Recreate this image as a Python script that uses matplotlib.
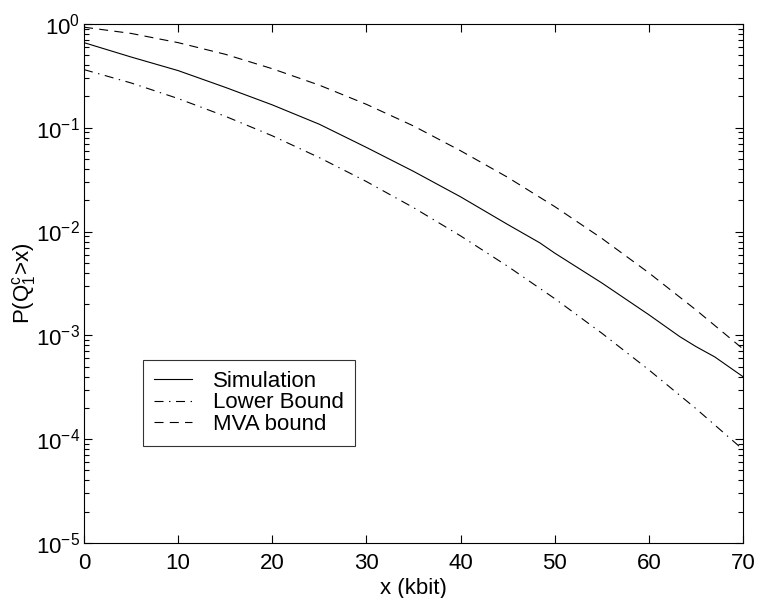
import numpy as np
import matplotlib
matplotlib.use("Agg")
import matplotlib.pyplot as plt
from matplotlib.ticker import LogLocator, NullLocator

plt.rcParams['font.family'] = ['Liberation Sans', 'DejaVu Sans']
plt.rcParams['mathtext.fontset'] = 'custom'
plt.rcParams['mathtext.rm'] = 'Liberation Sans'
plt.rcParams['mathtext.it'] = 'Liberation Sans'
plt.rcParams['mathtext.default'] = 'regular'
plt.rcParams['lines.scale_dashes'] = False

# buffer size in kbit
x = [0, 5, 10, 15, 20, 25, 30, 35, 40, 45, 50, 55, 60, 65, 70]
sim_x = [0, 5, 10, 15, 20, 25, 30, 35, 40, 45, 48.4, 50, 55, 60, 63.3, 65, 67, 70]

# overflow probabilities
simulation = [0.66, 0.48, 0.355, 0.245, 0.166, 0.108, 0.0646, 0.038, 0.0216,
              0.0117, 0.0078, 0.0062, 0.0032, 0.00158, 0.00097, 0.00078,
              0.00062, 0.0004]
lower_bound = [0.363, 0.270, 0.191, 0.129, 0.0836, 0.0515, 0.0303, 0.0170,
               0.00908, 0.00463, 0.00226, 0.00105, 0.000465, 0.000197, 0.0000794]
mva_bound = [0.93, 0.81, 0.66, 0.51, 0.37, 0.257, 0.168, 0.104, 0.060,
             0.0333, 0.0174, 0.0086, 0.0040, 0.00176, 0.00074]

fig = plt.figure(figsize=(7.57, 5.98), dpi=100)
ax = fig.add_axes([0.111, 0.092, 0.8705, 0.868])

lw = 0.8
ax.semilogy(sim_x, simulation, '-', color='black', lw=lw, label='Simulation')
ax.semilogy(x, lower_bound, color='black', lw=lw, dashes=(6.5, 4, 1, 4),
            label='Lower Bound')
ax.semilogy(x, mva_bound, color='black', lw=lw, dashes=(6.5, 4.5),
            label='MVA bound')

ax.set_xlim(0, 70)
ax.set_ylim(1e-5, 1e0)
ax.set_xticks(range(0, 71, 10))
ax.yaxis.set_major_locator(LogLocator(base=10, numticks=10))
ax.yaxis.set_minor_locator(LogLocator(base=10, subs=np.arange(2, 10), numticks=10))
ax.xaxis.set_minor_locator(NullLocator())

ax.tick_params(which='both', direction='in', top=True, right=True,
               labelsize=16, width=0.8)
ax.tick_params(which='major', length=6)
ax.tick_params(which='minor', length=3.5)
ax.tick_params(axis='x', pad=7)
ax.tick_params(axis='y', pad=3)
for s in ax.spines.values():
    s.set_linewidth(0.8)

ax.set_xlabel('x (kbit)', fontsize=16, labelpad=3)
ax.set_ylabel(r'P(Q$_1^c$>x)', fontsize=16, labelpad=-2)

leg = ax.legend(loc='lower left', bbox_to_anchor=(0.0895, 0.187),
                fontsize=16, frameon=True, fancybox=False, handlelength=1.7,
                borderpad=0.5, labelspacing=0.02, handletextpad=0.95,
                borderaxespad=0)
leg.get_frame().set_edgecolor('black')
leg.get_frame().set_linewidth(0.8)

fig.savefig('out.png', dpi=100)
